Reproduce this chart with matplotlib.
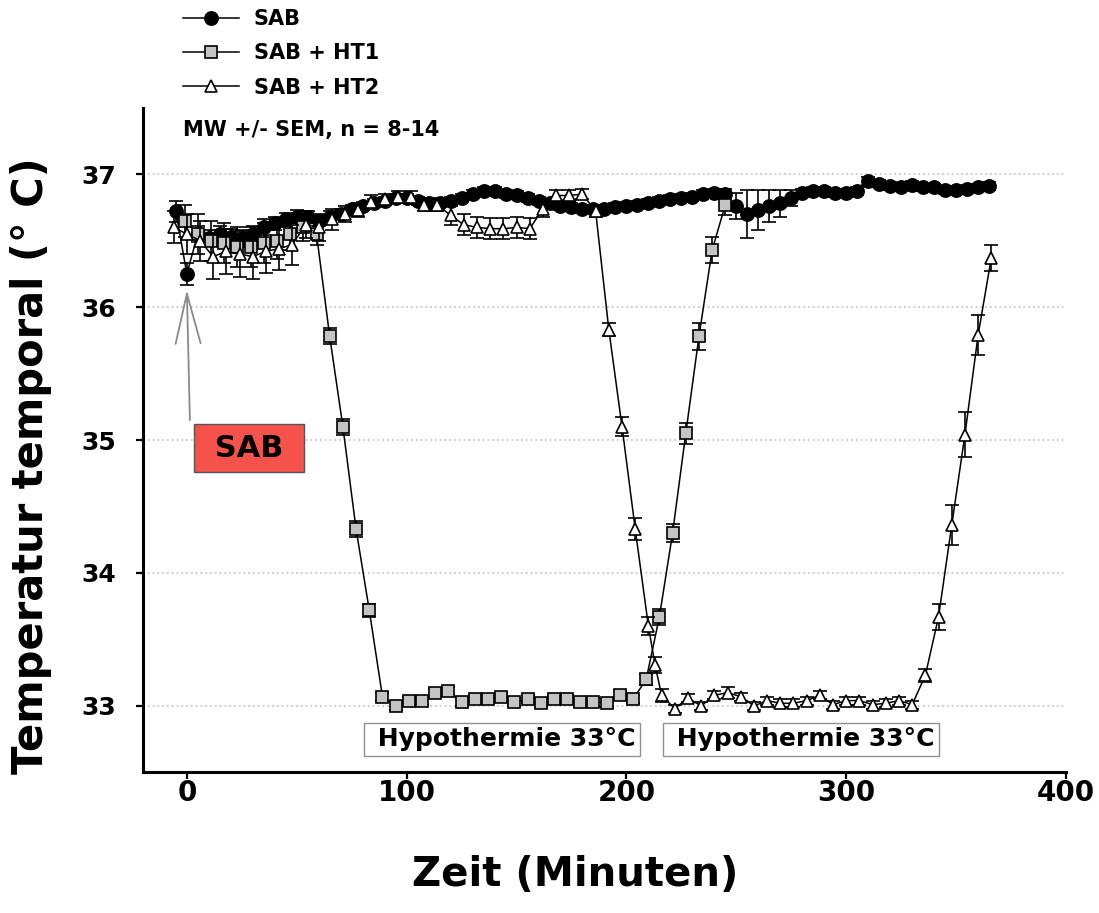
import matplotlib.pyplot as plt

# SAB (filled circles), minutes / deg C / SEM
sab_t = [-5, 0, 5, 10, 15, 20, 25, 30, 35, 40, 45, 50, 55, 60, 65, 70, 75, 80,
         85, 90, 95, 100, 105, 110, 115, 120, 125, 130, 135, 140, 145, 150, 155,
         160, 165, 170, 175, 180, 185, 190, 195, 200, 205, 210, 215, 220, 225,
         230, 235, 240, 245, 250, 255, 260, 265, 270, 275, 280, 285, 290, 295,
         300, 305, 310, 315, 320, 325, 330, 335, 340, 345, 350, 355, 360, 365]
sab_y = [36.72, 36.25, 36.55, 36.52, 36.55, 36.53, 36.52, 36.55, 36.60, 36.63,
         36.66, 36.68, 36.68, 36.65, 36.68, 36.70, 36.74, 36.76, 36.78, 36.80,
         36.82, 36.82, 36.80, 36.78, 36.78, 36.80, 36.82, 36.85, 36.87, 36.87,
         36.85, 36.84, 36.82, 36.80, 36.78, 36.76, 36.75, 36.74, 36.74, 36.74,
         36.75, 36.76, 36.77, 36.78, 36.80, 36.81, 36.82, 36.83, 36.85, 36.86,
         36.85, 36.76, 36.70, 36.73, 36.76, 36.78, 36.82, 36.86, 36.87, 36.87,
         36.86, 36.86, 36.87, 36.95, 36.93, 36.91, 36.90, 36.92, 36.90, 36.90,
         36.88, 36.88, 36.89, 36.90, 36.91]
sab_err = [0.08, 0.08, 0.06, 0.06, 0.06, 0.06, 0.06, 0.06, 0.06, 0.05, 0.05,
           0.05, 0.04, 0.04, 0.04, 0.04, 0.03, 0.03, 0.03, 0.03, 0.03, 0.03,
           0.03, 0.03, 0.03, 0.03, 0.03, 0.03, 0.03, 0.03, 0.03, 0.03, 0.03,
           0.03, 0.03, 0.03, 0.03, 0.03, 0.03, 0.03, 0.03, 0.03, 0.03, 0.03,
           0.03, 0.03, 0.03, 0.03, 0.03, 0.03, 0.04, 0.10, 0.18, 0.15, 0.12,
           0.10, 0.06, 0.03, 0.03, 0.03, 0.03, 0.03, 0.03, 0.03, 0.03, 0.03,
           0.03, 0.03, 0.03, 0.03, 0.03, 0.03, 0.03, 0.03, 0.03]

# SAB + HT1 (grey squares)
ht1_t = [-1, 5, 11, 17, 23, 29, 35, 41, 47, 53, 59, 65, 71, 77, 83, 89, 95,
         101, 107, 113, 119, 125, 131, 137, 143, 149, 155, 161, 167, 173, 179,
         185, 191, 197, 203, 209, 215, 221, 227, 233, 239, 245]
ht1_y = [36.65, 36.55, 36.50, 36.48, 36.45, 36.45, 36.48, 36.50, 36.55, 36.60,
         36.55, 35.78, 35.10, 34.33, 33.72, 33.07, 33.00, 33.04, 33.04, 33.10,
         33.11, 33.03, 33.05, 33.05, 33.07, 33.03, 33.05, 33.02, 33.05, 33.05,
         33.03, 33.03, 33.02, 33.08, 33.05, 33.20, 33.67, 34.30, 35.05, 35.78,
         36.43, 36.77]
ht1_err = [0.12, 0.15, 0.15, 0.15, 0.15, 0.15, 0.15, 0.14, 0.12, 0.10, 0.08,
           0.06, 0.06, 0.06, 0.05, 0.03, 0.03, 0.03, 0.03, 0.03, 0.03, 0.03,
           0.03, 0.03, 0.03, 0.03, 0.03, 0.03, 0.03, 0.03, 0.03, 0.03, 0.03,
           0.03, 0.03, 0.04, 0.06, 0.07, 0.08, 0.10, 0.10, 0.08]

# SAB + HT2 (open triangles)
ht2_t = [-6, 0, 6, 12, 18, 24, 30, 36, 42, 48, 54, 60, 66, 72, 78, 84, 90, 96,
         102, 108, 114, 120, 126, 132, 138, 144, 150, 156, 162, 168, 174, 180,
         186, 192, 198, 204, 210, 213, 216, 222, 228, 234, 240, 246, 252, 258,
         264, 270, 276, 282, 288, 294, 300, 306, 312, 318, 324, 330, 336, 342,
         348, 354, 360, 366]
ht2_y = [36.60, 36.55, 36.50, 36.38, 36.42, 36.40, 36.38, 36.42, 36.44, 36.47,
         36.62, 36.60, 36.66, 36.70, 36.73, 36.79, 36.81, 36.83, 36.83, 36.77,
         36.77, 36.69, 36.62, 36.60, 36.59, 36.59, 36.60, 36.59, 36.74, 36.84,
         36.84, 36.85, 36.72, 35.83, 35.10, 34.33, 33.60, 33.31, 33.08, 32.98,
         33.06, 33.00, 33.08, 33.10, 33.07, 33.00, 33.04, 33.02, 33.02, 33.04,
         33.08, 33.01, 33.04, 33.04, 33.01, 33.02, 33.04, 33.01, 33.23, 33.67,
         34.36, 35.04, 35.79, 36.37]
ht2_err = [0.12, 0.15, 0.15, 0.17, 0.17, 0.17, 0.17, 0.16, 0.16, 0.15, 0.10,
           0.10, 0.08, 0.06, 0.05, 0.05, 0.04, 0.04, 0.04, 0.05, 0.05, 0.07,
           0.08, 0.08, 0.08, 0.08, 0.08, 0.08, 0.06, 0.04, 0.04, 0.04, 0.04,
           0.05, 0.07, 0.08, 0.07, 0.06, 0.05, 0.03, 0.03, 0.03, 0.03, 0.04,
           0.03, 0.03, 0.03, 0.03, 0.03, 0.03, 0.03, 0.03, 0.03, 0.03, 0.03,
           0.03, 0.03, 0.03, 0.05, 0.10, 0.15, 0.17, 0.15, 0.10]

labels = ['SAB', 'SAB + HT1', 'SAB + HT2']
y_ticks = [33, 34, 35, 36, 37]
x_ticks = [0, 100, 200, 300, 400]

plt.rcParams['font.family'] = 'DejaVu Sans'
plt.rcParams['font.weight'] = 'bold'

fig = plt.figure(figsize=(10.99, 9.13), dpi=100)
ax = fig.add_axes([0.130, 0.154, 0.840, 0.728])

eb = dict(ecolor='black', elinewidth=1.2, capsize=5, capthick=1.4,
          color='black', linewidth=1.1, markeredgecolor='black',
          markeredgewidth=1.2)
c1 = ax.errorbar(sab_t, sab_y, yerr=sab_err, marker='o', ms=9.5,
                 markerfacecolor='black', zorder=3, **eb)
c2 = ax.errorbar(ht1_t, ht1_y, yerr=ht1_err, marker='s', ms=8.5,
                 markerfacecolor='#c4c4c4', zorder=4, **eb)
c3 = ax.errorbar(ht2_t, ht2_y, yerr=ht2_err, marker='^', ms=9,
                 markerfacecolor='white', zorder=5, **eb)

ax.set_xlim(-20, 400)
ax.set_ylim(32.5, 37.5)
ax.set_xticks(x_ticks)
ax.set_yticks(y_ticks)
ax.yaxis.grid(True, linestyle=':', color='#c8c8c8', linewidth=1.3)
ax.set_axisbelow(True)

for s in ['top', 'right']:
    ax.spines[s].set_visible(False)
for s in ['left', 'bottom']:
    ax.spines[s].set_linewidth(2.2)

ax.tick_params(axis='both', direction='out', length=5, width=1.6)
ax.tick_params(axis='y', pad=14, labelsize=18)
ax.tick_params(axis='x', pad=0, labelsize=20)

ax.set_xlabel('Zeit (Minuten)', fontsize=29, fontweight='bold')
ax.set_ylabel('Temperatur temporal (° C)', fontsize=30, fontweight='bold')
ax.xaxis.set_label_coords(0.468, -0.125)
ax.yaxis.set_label_coords(-0.098, 0.462)

# hypothermia boxes
hbox = dict(boxstyle='square,pad=0.18', fc='white', ec='#909090', lw=1)
ax.text(143.5, 32.75, ' Hypothermie 33°C', ha='center', va='center',
        fontsize=18, fontweight='bold', bbox=hbox, zorder=6)
ax.text(279.5, 32.75, ' Hypothermie 33°C', ha='center', va='center',
        fontsize=18, fontweight='bold', bbox=hbox, zorder=6)

# SAB marker with arrow
ax.annotate('', xy=(0, 36.13), xytext=(1.4, 35.15),
            arrowprops=dict(arrowstyle='->,head_length=1.8,head_width=0.45',
                            color='#8a8a8a', lw=1.3, mutation_scale=20,
                            shrinkA=0, shrinkB=0))
ax.text(28.2, 34.94, ' SAB ', ha='center', va='center', fontsize=22,
        fontweight='bold',
        bbox=dict(boxstyle='square,pad=0.32', fc='#f5524c', ec='#555555', lw=1))

fig.legend([c1[0], c2[0], c3[0]], labels, loc='upper left',
           bbox_to_anchor=(183 / 1099, 1 - 9 / 913), frameon=False,
           fontsize=15, handlelength=2.7, handletextpad=0.7,
           labelspacing=0.69, borderpad=0, borderaxespad=0)
fig.text(183 / 1099, 1 - 130 / 913, 'MW +/- SEM, n = 8-14', va='center',
         ha='left', fontsize=15, fontweight='bold')

fig.savefig('out.png', dpi=100)
